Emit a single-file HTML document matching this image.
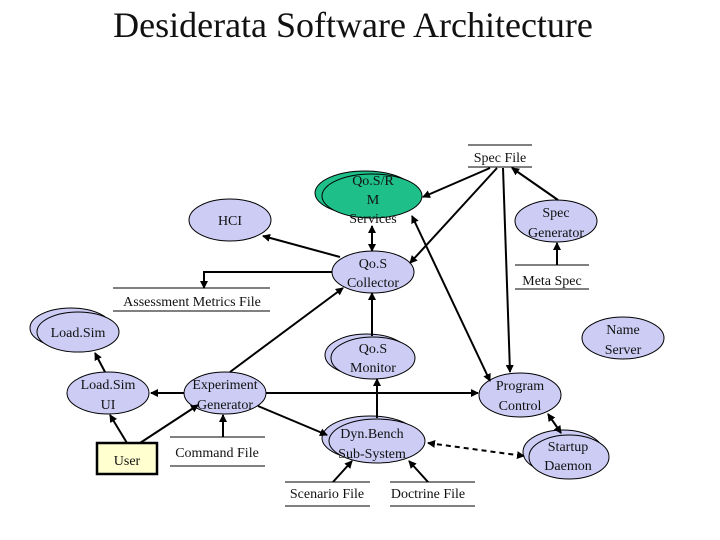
<!DOCTYPE html>
<html><head><meta charset="utf-8"><style>
body{margin:0;background:#fff}
svg{display:block}
text{font-family:"Liberation Serif",serif;fill:#111}
</style></head><body>
<svg width="720" height="540" viewBox="0 0 720 540" xmlns="http://www.w3.org/2000/svg">
<defs>
<marker id="a" markerWidth="8" markerHeight="8" refX="7" refY="4" orient="auto" markerUnits="userSpaceOnUse"><path d="M0,0 L8,4 L0,8 z" fill="#000"/></marker>
<marker id="s" markerWidth="8" markerHeight="8" refX="1" refY="4" orient="auto" markerUnits="userSpaceOnUse"><path d="M8,0 L0,4 L8,8 z" fill="#000"/></marker>
</defs>
<text x="353" y="37" font-size="36" text-anchor="middle">Desiderata Software Architecture</text>

<g fill="#ccccf5" stroke="#000" stroke-width="1">
<ellipse cx="230" cy="220" rx="41" ry="21"/>
<ellipse cx="365" cy="193" rx="50" ry="22" fill="#1fbf8a"/>
<ellipse cx="372" cy="196" rx="50" ry="22" fill="#1fbf8a"/>
<ellipse cx="556" cy="221" rx="41" ry="21"/>
<ellipse cx="373" cy="272" rx="41" ry="21"/>
<ellipse cx="71" cy="328" rx="41" ry="20"/>
<ellipse cx="78" cy="332" rx="41" ry="20"/>
<ellipse cx="623" cy="338" rx="41" ry="21"/>
<ellipse cx="367" cy="355" rx="42" ry="21"/>
<ellipse cx="373" cy="358" rx="42" ry="21"/>
<ellipse cx="108" cy="393" rx="41" ry="21"/>
<ellipse cx="225" cy="393" rx="41" ry="21"/>
<ellipse cx="520" cy="395" rx="41" ry="22"/>
<ellipse cx="370" cy="438" rx="48" ry="22"/>
<ellipse cx="377" cy="441" rx="48" ry="22"/>
<ellipse cx="563" cy="452" rx="40" ry="22"/>
<ellipse cx="569" cy="457" rx="40" ry="22"/>
</g>
<rect x="97" y="443" width="60" height="31" fill="#ffffd0" stroke="#000" stroke-width="2.5"/>

<g stroke="#000" stroke-width="1">
<line x1="468" y1="145" x2="532" y2="145"/><line x1="468" y1="167" x2="532" y2="167"/>
<line x1="515" y1="265" x2="589" y2="265"/><line x1="515" y1="289" x2="589" y2="289"/>
<line x1="113" y1="288" x2="270" y2="288"/><line x1="113" y1="311" x2="270" y2="311"/>
<line x1="170" y1="437" x2="265" y2="437"/><line x1="170" y1="466" x2="265" y2="466"/>
<line x1="285" y1="482" x2="370" y2="482"/><line x1="285" y1="506" x2="370" y2="506"/>
<line x1="390" y1="482" x2="475" y2="482"/><line x1="390" y1="506" x2="475" y2="506"/>
</g>

<g stroke="#000" stroke-width="2" fill="none" marker-end="url(#a)">
<line x1="340" y1="257" x2="263" y2="236"/>
<polyline points="332,272 204,272 204,288"/>
<line x1="230" y1="372" x2="343" y2="288"/>
<line x1="372" y1="226" x2="372" y2="251" marker-start="url(#s)"/>
<line x1="490" y1="168" x2="423" y2="197"/>
<line x1="497" y1="168" x2="410" y2="263"/>
<line x1="503" y1="168" x2="510" y2="372"/>
<line x1="558" y1="200" x2="512" y2="168"/>
<line x1="557" y1="265" x2="557" y2="243"/>
<line x1="412" y1="216" x2="490" y2="381" marker-start="url(#s)"/>
<line x1="372" y1="336" x2="372" y2="293"/>
<line x1="377" y1="418" x2="377" y2="379"/>
<line x1="184" y1="393" x2="151" y2="393"/>
<line x1="266" y1="393" x2="478" y2="393"/>
<line x1="105" y1="372" x2="95" y2="353"/>
<line x1="127" y1="443" x2="110" y2="415"/>
<line x1="140" y1="443" x2="198" y2="405"/>
<line x1="223" y1="437" x2="223" y2="415"/>
<line x1="258" y1="406" x2="327" y2="435"/>
<line x1="333" y1="482" x2="352" y2="461"/>
<line x1="428" y1="482" x2="409" y2="461"/>
<line x1="428" y1="443" x2="524" y2="456" stroke-dasharray="5,4" marker-start="url(#s)"/>
<line x1="548" y1="414" x2="561" y2="433" marker-start="url(#s)"/>
</g>

<g font-size="14" text-anchor="middle">
<text x="230" y="225">HCI</text>
<text x="373" y="185">Qo.S/R</text><text x="373" y="204">M</text><text x="373" y="223">Services</text>
<text x="500" y="162">Spec File</text>
<text x="556" y="217">Spec</text><text x="556" y="237">Generator</text>
<text x="552" y="285">Meta Spec</text>
<text x="373" y="268">Qo.S</text><text x="373" y="287">Collector</text>
<text x="192" y="306">Assessment Metrics File</text>
<text x="78" y="337">Load.Sim</text>
<text x="623" y="334">Name</text><text x="623" y="354">Server</text>
<text x="373" y="353">Qo.S</text><text x="373" y="372">Monitor</text>
<text x="108" y="389">Load.Sim</text><text x="108" y="409">UI</text>
<text x="225" y="389">Experiment</text><text x="225" y="409">Generator</text>
<text x="520" y="390">Program</text><text x="520" y="410">Control</text>
<text x="127" y="465">User</text>
<text x="217" y="457">Command File</text>
<text x="372" y="438">Dyn.Bench</text><text x="372" y="458">Sub-System</text>
<text x="568" y="451">Startup</text><text x="568" y="470">Daemon</text>
<text x="327" y="498">Scenario File</text>
<text x="428" y="498">Doctrine File</text>
</g>
</svg>
</body></html>
